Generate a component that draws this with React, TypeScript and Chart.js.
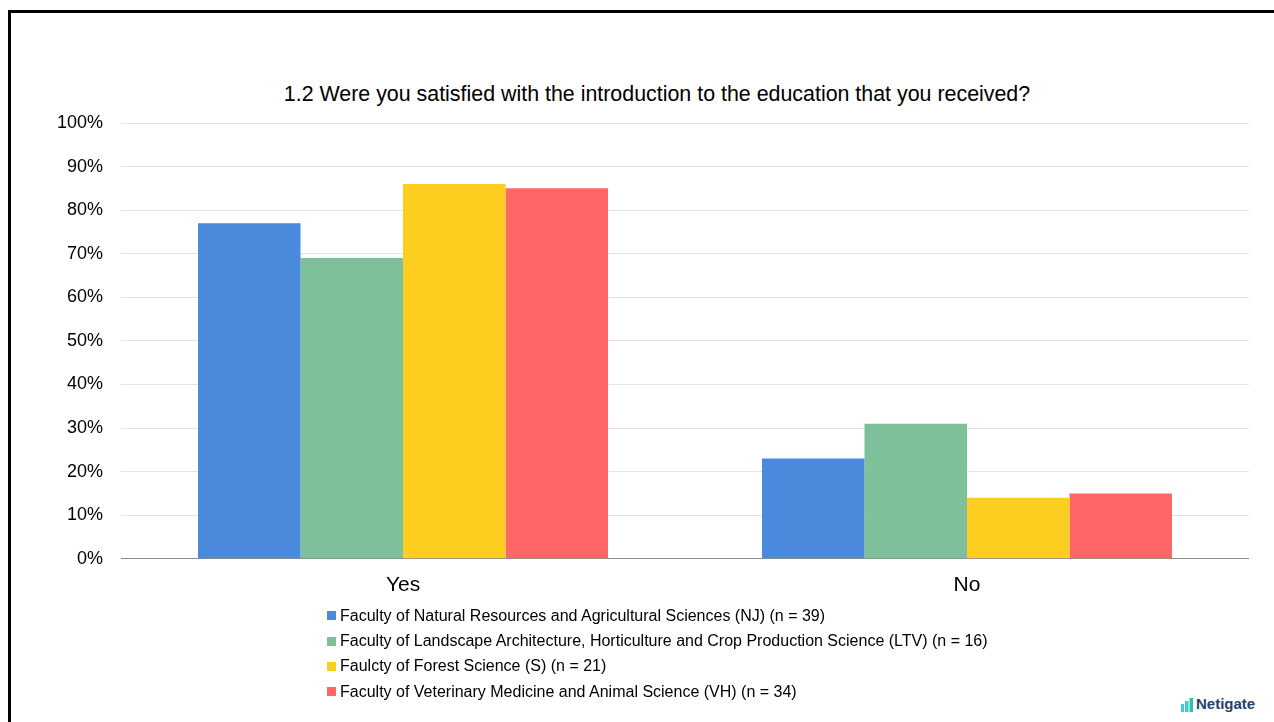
import React, { useEffect, useRef } from "react";
import { Chart, registerables } from "chart.js";

Chart.register(...registerables);

const titleText = "1.2 Were you satisfied with the introduction to the education that you received?";
const categories = ["Yes", "No"];
const seriesLabels = [
  "Faculty of Natural Resources and Agricultural Sciences (NJ) (n = 39)",
  "Faculty of Landscape Architecture, Horticulture and Crop Production Science (LTV) (n = 16)",
  "Faulcty of Forest Science (S) (n = 21)",
  "Faculty of Veterinary Medicine and Animal Science (VH) (n = 34)",
];
const seriesColors = ["#4A89DC", "#7DC09A", "#FDCE1F", "#FF6666"];
const njValues = [77, 23];
const ltvValues = [69, 31];
const sValues = [86, 14];
const vhValues = [85, 15];
const seriesValues = [njValues, ltvValues, sValues, vhValues];
const yTicks = [0, 10, 20, 30, 40, 50, 60, 70, 80, 90, 100];

const FONT = "Arial, 'Liberation Sans', sans-serif";

export default function App() {
  const canvasRef = useRef<HTMLCanvasElement | null>(null);

  useEffect(() => {
    if (!canvasRef.current) return;
    const chart = new Chart(canvasRef.current, {
      type: "bar",
      data: {
        labels: categories,
        datasets: seriesLabels.map((label, i) => ({
          label,
          data: seriesValues[i],
          backgroundColor: seriesColors[i],
          borderWidth: 0,
          categoryPercentage: 0.727,
          barPercentage: 1.0,
        })),
      },
      options: {
        responsive: false,
        animation: false,
        maintainAspectRatio: false,
        layout: { padding: { left: 39, right: 25, top: 123, bottom: 16 } },
        plugins: {
          legend: { display: false },
          tooltip: { enabled: false },
          title: { display: false },
        },
        scales: {
          x: {
            grid: { display: false },
            border: { display: false },
            ticks: {
              color: "#000",
              font: { family: FONT, size: 21 },
              padding: 6,
            },
          },
          y: {
            min: 0,
            max: 100,
            afterBuildTicks: (axis: any) => {
              axis.ticks = yTicks.map((v) => ({ value: v }));
            },
            border: { display: false },
            grid: {
              drawTicks: false,
              color: (ctx: any) => (ctx.tick && ctx.tick.value === 0 ? "#8c8c8c" : "#e3e3e3"),
              lineWidth: 1,
            },
            ticks: {
              color: "#000",
              font: { family: FONT, size: 18 },
              padding: 18,
              callback: (v: any) => `${v}%`,
            },
          },
        },
      },
    });
    return () => chart.destroy();
  }, []);

  return (
    <div style={{ position: "fixed", left: 0, top: 0, width: 1274, height: 722, background: "#fff", overflow: "hidden", fontFamily: FONT }}>
      <div style={{ position: "absolute", left: 8, top: 10, right: -10, bottom: -10, borderTop: "3px solid #000", borderLeft: "3px solid #000" }} />
      <div style={{ position: "absolute", left: 0, top: 81, width: 1314, textAlign: "center", fontSize: 21.4, lineHeight: "26px", color: "#000", whiteSpace: "nowrap" }}>
        {titleText}
      </div>
      <canvas ref={canvasRef} width={1274} height={620} style={{ position: "absolute", left: 0, top: 0, width: 1274, height: 620 }} />
      <div style={{ position: "absolute", left: 327, top: 603 }}>
        {seriesLabels.map((label, i) => (
          <div key={label} style={{ display: "flex", alignItems: "center", height: 25.4, fontSize: 16, color: "#000", whiteSpace: "nowrap" }}>
            <span style={{ display: "inline-block", width: 9, height: 9, background: seriesColors[i], marginRight: 4 }} />
            <span>{label}</span>
          </div>
        ))}
      </div>
      <div style={{ position: "absolute", left: 1181, top: 696, display: "flex", alignItems: "flex-end", gap: 3 }}>
        <svg width="12" height="14" viewBox="0 0 12 14">
          <rect x="0" y="6" width="3" height="8" fill="#3ccfc7" />
          <rect x="4" y="3" width="3.5" height="11" fill="#3ccfc7" />
          <rect x="8.5" y="0" width="3.5" height="14" fill="#2bbfb8" />
        </svg>
        <span style={{ fontSize: 15, fontWeight: "bold", color: "#1f426e", lineHeight: "16px" }}>Netigate</span>
      </div>
    </div>
  );
}
